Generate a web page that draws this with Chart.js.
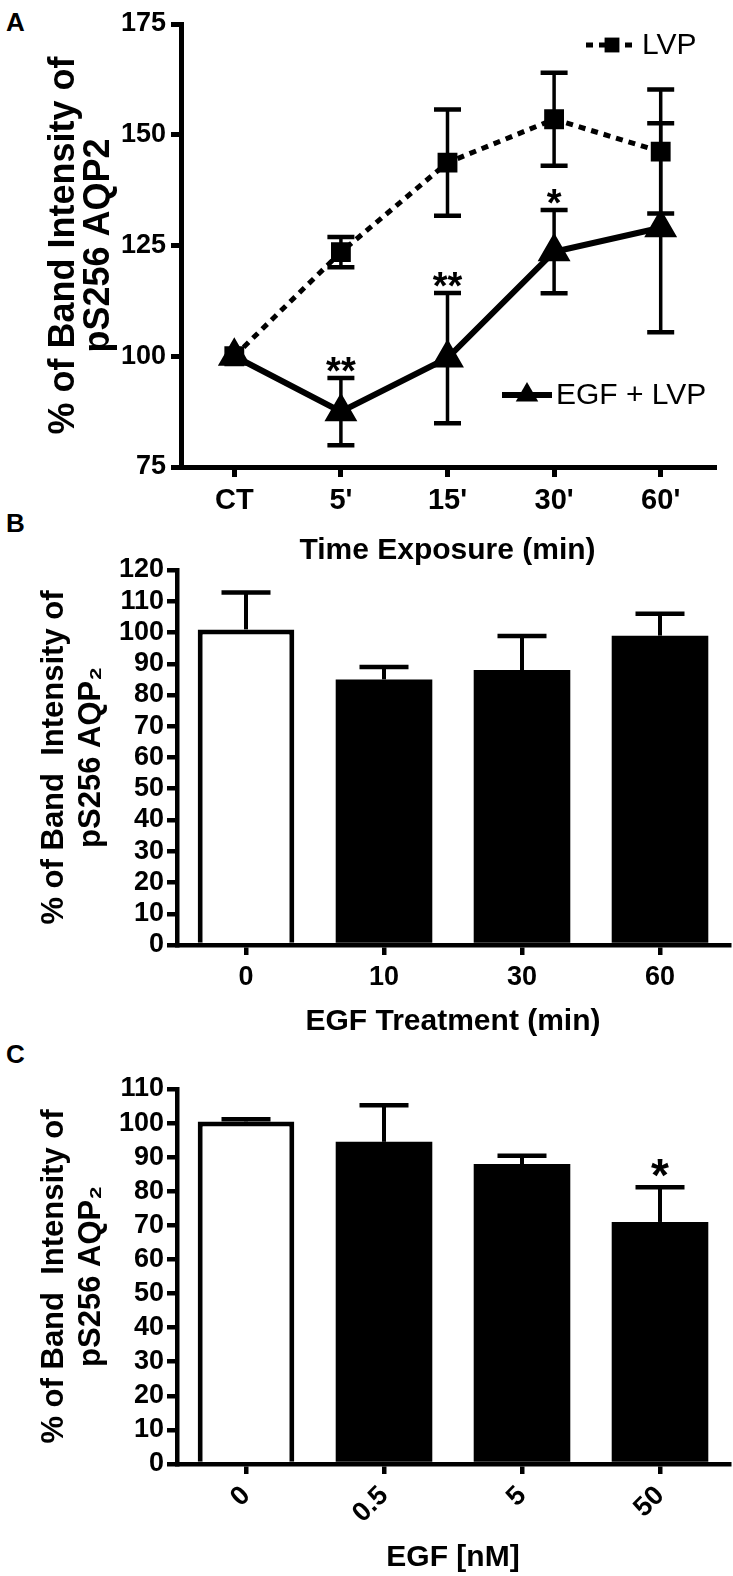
<!DOCTYPE html>
<html>
<head>
<meta charset="utf-8">
<title>pS256 AQP2 band intensity</title>
<script src="https://cdn.jsdelivr.net/npm/chart.js@4.4.0/dist/chart.umd.min.js"></script>
<style>
  html, body { margin: 0; padding: 0; background: #fff; }
  body { width: 733px; height: 1576px; position: relative; overflow: hidden; }
  canvas { position: absolute; left: 0; }
  .letter { position: absolute; left: 6px; line-height: 26px; font: bold 26px 'Liberation Sans', Arial, sans-serif; color: #000; }
</style>
</head>
<body>
<div class="letter" style="top:7px">A</div>
<div class="letter" style="top:508px">B</div>
<div class="letter" style="top:1039px">C</div>
<canvas id="chartA" width="733" height="580" style="top:0"></canvas>
<canvas id="chartB" width="733" height="500" style="top:540px"></canvas>
<canvas id="chartC" width="733" height="516" style="top:1060px"></canvas>
<script>
const SANS = "'Liberation Sans', Arial, Helvetica, sans-serif";

// panel A - time course, LVP vs EGF + LVP
const timeLabels = ['CT', "5'", "15'", "30'", "60'"];
const lvpMean = [100, 123.5, 143.7, 153.5, 146.2];
const lvpSem = [0, 3.4, 12.0, 10.5, 14.0];
const egfLvpMean = [100, 87.5, 99.6, 123.6, 129.0];
const egfLvpSem = [0, 7.6, 14.7, 9.4, 23.6];
const egfLvpSig = ['', '**', '**', '*', ''];
const axisA = { min: 75, max: 175, step: 25 };

// panel B - EGF treatment time
const egfTimeLabels = ['0', '10', '30', '60'];
const egfTimeMean = [101, 85, 88, 99];
const egfTimeSem = [11.8, 4.0, 10.9, 7.0];
const axisB = { min: 0, max: 120, step: 10 };

// panel C - EGF dose
const egfDoseLabels = ['0', '0.5', '5', '50'];
const egfDoseMean = [100.5, 94.5, 88, 71];
const egfDoseSem = [0.6, 10.7, 2.4, 10.2];
const egfDoseSig = ['', '', '', '*'];
const axisC = { min: 0, max: 110, step: 10 };

const barFill = ['#ffffff', '#000000', '#000000', '#000000'];
const barBorder = [5, 0, 0, 0];

// error bars + significance stars, read from dataset.sem / dataset.sig
const errorBars = {
  id: 'errorBars',
  afterDatasetsDraw(chart, args, opts) {
    const ctx = chart.ctx;
    const y = chart.scales.y;
    chart.data.datasets.forEach((ds, i) => {
      if (!ds.sem) return;
      const meta = chart.getDatasetMeta(i);
      meta.data.forEach((el, j) => {
        const m = ds.data[j], e = ds.sem[j];
        const x = el.x;
        const yTop = y.getPixelForValue(m + e);
        if (e > 0) {
          const yBot = y.getPixelForValue(opts.upOnly ? m : m - e);
          const half = opts.capWidth / 2;
          ctx.save();
          ctx.strokeStyle = '#000';
          ctx.lineWidth = opts.stemWidth;
          ctx.beginPath();
          ctx.moveTo(x, yTop);
          ctx.lineTo(x, yBot);
          ctx.stroke();
          ctx.lineWidth = opts.capThickness;
          ctx.beginPath();
          ctx.moveTo(x - half, yTop);
          ctx.lineTo(x + half, yTop);
          if (!opts.upOnly) {
            ctx.moveTo(x - half, yBot);
            ctx.lineTo(x + half, yBot);
          }
          ctx.stroke();
          ctx.restore();
        }
        if (ds.sig && ds.sig[j]) {
          ctx.save();
          ctx.fillStyle = '#000';
          ctx.font = opts.sigFont;
          ctx.textAlign = 'center';
          ctx.textBaseline = 'alphabetic';
          ctx.fillText(ds.sig[j], x, yTop - opts.sigGap);
          ctx.restore();
        }
      });
    });
  }
};

// legend for panel A, two entries placed inside the plot
const legendA = {
  id: 'legendA',
  afterDraw(chart) {
    const ctx = chart.ctx;
    const ca = chart.chartArea;
    const entries = [
      { ds: chart.data.datasets[0], x0: ca.right - 128, x1: ca.right - 76, y: ca.top + 21 },
      { ds: chart.data.datasets[1], x0: ca.right - 212, x1: ca.right - 162, y: ca.top + 371 }
    ];
    entries.forEach(en => {
      const ds = en.ds;
      ctx.save();
      ctx.strokeStyle = '#000';
      ctx.fillStyle = '#000';
      ctx.lineWidth = ds.borderWidth;
      ctx.setLineDash(ds.borderDash || []);
      ctx.beginPath();
      ctx.moveTo(en.x0, en.y);
      ctx.lineTo(en.x1, en.y);
      ctx.stroke();
      ctx.setLineDash([]);
      const cx = (en.x0 + en.x1) / 2;
      const r = ds.pointRadius;
      ctx.beginPath();
      if (ds.pointStyle === 'rect') {
        const s = r * Math.SQRT1_2;
        ctx.rect(cx - s, en.y - s, 2 * s, 2 * s);
      } else {
        ctx.moveTo(cx, en.y - r);
        ctx.lineTo(cx + r * 0.866, en.y + r / 2);
        ctx.lineTo(cx - r * 0.866, en.y + r / 2);
        ctx.closePath();
      }
      ctx.fill();
      ctx.font = '30px ' + SANS;
      ctx.textAlign = 'left';
      ctx.textBaseline = 'middle';
      ctx.fillText(ds.label, en.x1 + 4, en.y + 1);
      ctx.restore();
    });
  }
};

function axisStyle(width) {
  return {
    grid: { drawOnChartArea: false, offset: false, color: '#000', lineWidth: width, tickLength: 10 },
    border: { color: '#000', width: width }
  };
}

// ---- panel A ----
new Chart(document.getElementById('chartA'), {
  type: 'line',
  data: {
    labels: timeLabels,
    datasets: [
      { label: 'LVP', data: lvpMean, sem: lvpSem, borderColor: '#000', backgroundColor: '#000',
        borderWidth: 5, borderDash: [7, 6], pointStyle: 'rect', pointRadius: 10.5, pointHoverRadius: 10.5 },
      { label: 'EGF + LVP', data: egfLvpMean, sem: egfLvpSem, sig: egfLvpSig, borderColor: '#000', backgroundColor: '#000',
        borderWidth: 6, pointStyle: 'triangle', pointRadius: 13, pointHoverRadius: 13 }
    ]
  },
  options: {
    responsive: false, animation: false, devicePixelRatio: 1,
    layout: { padding: { top: 24, right: 12, left: 0, bottom: 0 } },
    plugins: {
      legend: { display: false }, tooltip: { enabled: false },
      errorBars: { capWidth: 27, stemWidth: 3.5, capThickness: 4.5, upOnly: false, sigFont: 'bold 38px ' + SANS, sigGap: -6 }
    },
    scales: {
      x: {
        type: 'category', offset: true, ...axisStyle(5),
        ticks: { color: '#000', autoSkip: false, maxRotation: 0, padding: 7, font: { family: SANS, size: 29, weight: 'bold' } },
        title: { display: true, text: 'Time Exposure (min)', color: '#000', padding: { top: 0, bottom: 14 },
                 font: { family: SANS, size: 30, weight: 'bold', lineHeight: 1 } },
        afterFit(s) { s.height = 113; }
      },
      y: {
        min: axisA.min, max: axisA.max, ...axisStyle(5),
        ticks: { stepSize: axisA.step, autoSkip: false, color: '#000', padding: 5, font: { family: SANS, size: 27, weight: 'bold' } },
        title: { display: true, text: ['% of Band Intensity of', 'pS256 AQP2'], color: '#000', padding: { top: 47, bottom: 0 },
                 font: { family: SANS, size: 36, weight: 'bold', lineHeight: 0.97 } },
        afterFit(s) { s.width = 181; }
      }
    }
  },
  plugins: [errorBars, legendA]
});

// ---- panels B and C ----
function barPanel(id, labels, mean, sem, sig, axis, xTitle, rotate, padTop, xHeight) {
  return new Chart(document.getElementById(id), {
    type: 'bar',
    data: {
      labels: labels,
      datasets: [{ data: mean, sem: sem, sig: sig, backgroundColor: barFill, borderColor: '#000',
                   borderWidth: barBorder, barPercentage: 0.7, categoryPercentage: 1 }]
    },
    options: {
      responsive: false, animation: false, devicePixelRatio: 1,
      layout: { padding: { top: padTop, right: 4, left: 0, bottom: 0 } },
      plugins: {
        legend: { display: false }, tooltip: { enabled: false },
        errorBars: { capWidth: 49, stemWidth: 4, capThickness: 4.5, upOnly: true, sigFont: 'bold 46px ' + SANS, sigGap: -4 }
      },
      scales: {
        x: {
          offset: true, ...axisStyle(4.5),
          ticks: { color: '#000', autoSkip: false, minRotation: rotate, maxRotation: rotate, padding: 6,
                   font: { family: SANS, size: 27, weight: 'bold' } },
          title: { display: true, text: xTitle, color: '#000', padding: { top: 0, bottom: 3 },
                   font: { family: SANS, size: 30, weight: 'bold', lineHeight: 1 } },
          afterFit(s) { s.height = xHeight; }
        },
        y: {
          min: axis.min, max: axis.max, ...axisStyle(4.5),
          ticks: { stepSize: axis.step, autoSkip: false, color: '#000', padding: 3,
                   font: { family: SANS, size: 27, weight: 'bold', lineHeight: 1 } },
          title: { display: true, text: ['% of Band  Intensity of', 'pS256 AQP\u2082'], color: '#000', padding: { top: 36, bottom: 0 },
                   font: { family: SANS, size: 31, weight: 'bold', lineHeight: 1.2 } },
          afterFit(s) { s.width = 177; }
        }
      }
    },
    plugins: [errorBars]
  });
}

barPanel('chartB', egfTimeLabels, egfTimeMean, egfTimeSem, null, axisB, 'EGF Treatment (min)', 0, 30, 95);
barPanel('chartC', egfDoseLabels, egfDoseMean, egfDoseSem, egfDoseSig, axisC, 'EGF [nM]', 45, 29, 112);
</script>
</body>
</html>
